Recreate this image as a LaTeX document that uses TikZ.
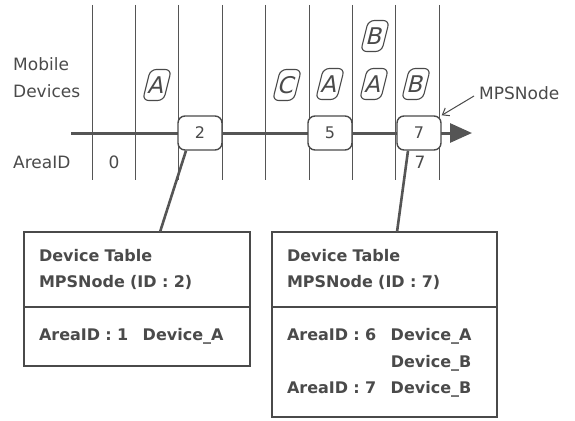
\documentclass[tikz,border=0pt]{standalone}
\usepackage{fontspec}
\setmainfont{DejaVu Sans}
\usetikzlibrary{arrows.meta, positioning}

\definecolor{inkgray}{HTML}{4A4A4A}
\definecolor{linegray}{HTML}{555555}

\tikzset{
  grid line/.style={linegray, line width=0.9pt},
  axis/.style={linegray, line width=3pt, -{Triangle[length=22pt,width=19pt]}},
  link/.style={linegray, line width=2.6pt},
  pointer/.style={inkgray, line width=1pt, -{Straight Barb[length=6pt,width=9pt]}},
  areabox/.style={draw=inkgray, fill=white, line width=1.4pt, rounded corners=7pt,
    minimum width=44pt, minimum height=34pt, inner sep=0pt, text=inkgray,
    font=\fontsize{16}{18}\selectfont},
  device/.style={draw=inkgray, line width=1.1pt, rounded corners=6pt, xslant=0.25,
    minimum width=21pt, minimum height=31pt, inner sep=0pt, text=inkgray,
    font=\fontsize{23}{24}\selectfont},
  label/.style={text=inkgray, inner sep=0pt, font=\fontsize{17}{27}\selectfont},
  tablepart/.style={draw=inkgray, line width=1.3pt, text width=196pt, inner xsep=15pt,
    inner ysep=0pt, outer sep=0pt, align=left, text=inkgray,
    font=\bfseries\fontsize{16}{26.5}\selectfont},
}

\begin{document}
\begin{tikzpicture}[x=1pt, y=-1pt]
\useasboundingbox (0,0) rectangle (575,420);

% area borders
\foreach \i in {0,...,8}
  \draw[grid line] ({92+43.4*\i},5) -- ({92+43.4*\i},180);

% time axis
\coordinate (axstart) at (71,133);
\coordinate (axend) at (472,133);
\draw[axis] (axstart) -- (axend);

% MPS nodes on the axis
\node[areabox] (box2) at (200,133) {2};
\node[areabox] (box5) at (330,133) {5};
\node[areabox] (box7) at (419,133) {7};

% mobile devices
\node[device] (devA1) at (157,85) {A};
\node[device] (devC4) at (287,85) {C};
\node[device] (devA5) at (330,84) {A};
\node[device] (devA6) at (374,84) {A};
\node[device] (devB6) at (375,36) {B};
\node[device] (devB7) at (416,84) {B};

% row labels
\node[label, anchor=west, align=left] (mobile) at (13,78) {Mobile\\Devices};
\node[label, anchor=west] (areaid) at (13,162) {AreaID};
\node[label] (area0) at (114,162) {0};
\node[label] (area7) at (420,162) {7};
\node[label, anchor=west] (mps) at (479,93) {MPSNode};
\draw[pointer] ([yshift=-3pt,xshift=-5pt]mps.west) -- (box7.north east);

% device tables
\node[tablepart, anchor=north west, minimum height=75pt] (hdr2) at (24,232)
  {Device Table\\MPSNode (ID : 2)};
\node[tablepart, below=0pt of hdr2, minimum height=59pt] (body2)
  {AreaID : 1\hspace{0.9em}Device\_A};
\node[tablepart, anchor=north west, minimum height=75pt, text width=195pt] (hdr7) at (272,232)
  {Device Table\\MPSNode (ID : 7)};
\node[tablepart, below=0pt of hdr7, minimum height=110pt, text width=195pt] (body7)
  {\begin{tabular}{@{}l@{\hspace{0.9em}}l@{}}
   AreaID : 6 & Device\_A\\
              & Device\_B\\
   AreaID : 7 & Device\_B
   \end{tabular}};

% links from nodes to their tables
\draw[link] ([xshift=-14pt]box2.south) -- ([xshift=23pt]hdr2.north);
\draw[link] ([xshift=-11pt]box7.south) -- ([xshift=12.5pt]hdr7.north);
\end{tikzpicture}
\end{document}
